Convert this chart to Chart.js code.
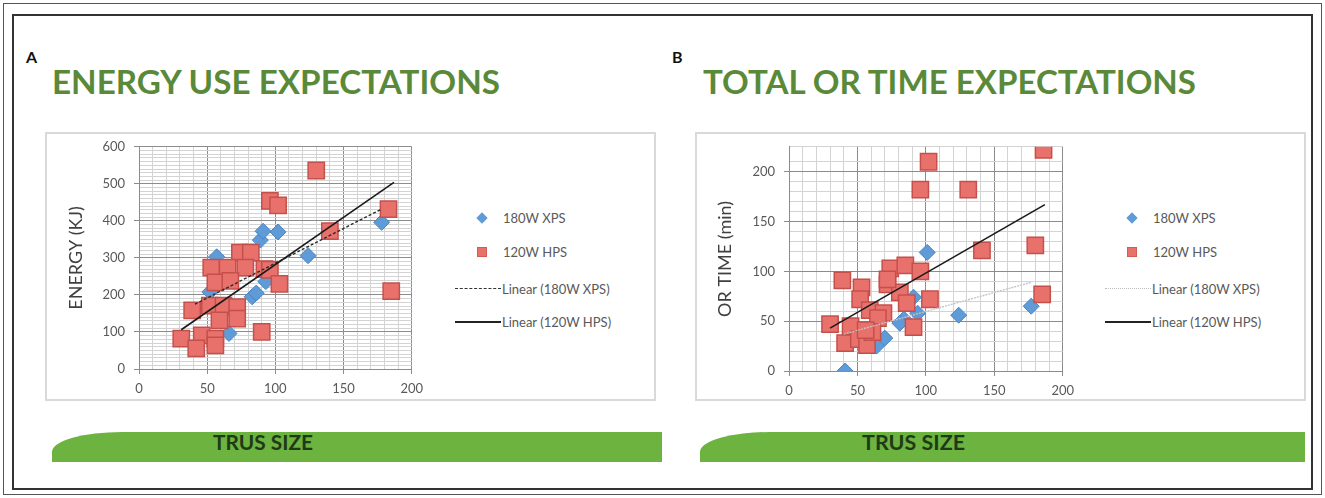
<!DOCTYPE html>
<html>
<head>
<meta charset="utf-8">
<script src="https://cdn.jsdelivr.net/npm/chart.js@4.4.0/dist/chart.umd.min.js"></script>
<style>
body { margin: 0; width: 1325px; height: 498px; background: #fff; position: relative; overflow: hidden; font-family: Lato, "Open Sans", sans-serif; }
.abs { position: absolute; }
.frame { border: 2px solid #d9d9d9; box-sizing: border-box; }
.big { color: #5a8a39; font-size: 33px; font-weight: bold; line-height: 34px; white-space: nowrap; transform-origin: 0 0; }
.letter { font-weight: bold; font-size: 16px; color: #111; }
.bar { background: #6cb33f; border-top-left-radius: 70px 20px; }
.bar span { position: absolute; top: -2px; font-weight: bold; font-size: 20px; color: #1f3a17; white-space: nowrap; transform-origin: 0 0; }
.leg { font-size: 13px; color: #595959; white-space: nowrap; line-height: 16px; }
</style>
</head>
<body>
<div class="abs" style="left:3px;top:3px;width:1317px;height:490px;border:1px solid #555;"></div>
<div class="abs" style="left:12px;top:14px;width:1297px;height:472px;border:2px solid #333;"></div>

<div class="abs letter" style="left:26px;top:47px;">A</div>
<div class="abs letter" style="left:672px;top:47px;">B</div>
<div class="abs big" id="titleA" style="left:52px;top:64px;">ENERGY USE EXPECTATIONS</div>
<div class="abs big" id="titleB" style="left:703px;top:64px;">TOTAL OR TIME EXPECTATIONS</div>

<div class="abs frame" style="left:45px;top:132px;width:611px;height:269px;"></div>
<div class="abs frame" style="left:695px;top:132px;width:611px;height:269px;"></div>

<canvas id="chartA" class="abs" width="384" height="270" style="left:46px;top:130px;"></canvas>
<canvas id="chartB" class="abs" width="386" height="270" style="left:695px;top:130px;"></canvas>

<div id="legA"></div>
<div id="legB"></div>

<div class="abs bar" style="left:52px;top:432px;width:610px;height:30px;"><span id="trusA" style="left:161px;">TRUS SIZE</span></div>
<div class="abs bar" style="left:700px;top:432px;width:605px;height:30px;"><span id="trusB" style="left:162px;">TRUS SIZE</span></div>

<script>
// A: energy use vs TRUS size
const xpsSizeA = [57, 52, 64, 66, 83, 86, 89, 91, 93, 102, 124, 178];
const xpsEnergy = [303, 208, 244, 96, 195, 205, 348, 372, 236, 370, 306, 396];
const hpsSizeA = [130, 96, 102, 183, 140, 185, 90, 74, 82, 53, 65, 78, 92, 96, 56, 67, 103, 39, 52, 62, 72, 59, 72, 31, 46, 56, 42, 56];
const hpsEnergy = [536, 454, 442, 432, 372, 210, 100, 314, 314, 274, 274, 274, 270, 268, 234, 238, 230, 158, 171, 171, 167, 131, 136, 82, 91, 82, 56, 64];
const xpsFitSizeA = [41, 178];
const xpsFitEnergy = [175, 432];
const hpsFitSizeA = [31, 187];
const hpsFitEnergy = [106, 504];

// B: OR time vs TRUS size
const xpsSizeB = [41, 101, 124, 177, 70, 64, 91, 84, 94, 81];
const xpsTime = [0, 119, 56, 65, 33, 25, 74, 52, 58, 48];
const hpsSizeB = [186, 102, 96, 131, 180, 141, 185, 103, 39, 91, 30, 53, 52, 74, 85, 96, 72, 81, 59, 69, 86, 45, 65, 41, 51, 57, 61, 56, 72];
const hpsTime = [222, 210, 182, 182, 126, 121, 77, 72, 91, 44, 47, 84, 72, 103, 106, 100, 87, 79, 61, 58, 68, 45, 53, 28, 32, 26, 39, 41, 92];
const xpsFitSizeB = [40, 177];
const xpsFitTime = [37, 89];
const hpsFitSizeB = [30, 187];
const hpsFitTime = [43, 167];

const xMajor = [0, 50, 100, 150, 200];
const yMajorA = [0, 100, 200, 300, 400, 500, 600];
const yMajorB = [0, 50, 100, 150, 200];
const seriesNames = ["180W XPS", "120W HPS", "Linear (180W XPS)", "Linear (120W HPS)"];

Chart.defaults.font.family = "Lato, 'Open Sans', sans-serif";

function pts(xs, ys) {
	return xs.map((x, i) => ({x: x, y: ys[i]}));
}

function axis(min, max, majors, fitSize, isX) {
	const isMajor = v => majors.includes(Math.round(v));
	return {
		type: "linear",
		min: min,
		max: max,
		afterFit: s => { if (isX) s.height = fitSize; else s.width = fitSize; },
		ticks: {
			stepSize: 10,
			autoSkip: false,
			maxRotation: 0,
			padding: isX ? 7 : 9,
			color: "#595959",
			font: {size: 13},
			callback: v => isMajor(v) ? Math.round(v) : ""
		},
		grid: {
			color: c => c.tick && isMajor(c.tick.value) ? "#8c8c8c" : "#d3d3d3",
			tickColor: c => c.tick && isMajor(c.tick.value) ? "#8c8c8c" : "rgba(0,0,0,0)",
			tickLength: 5
		},
		border: {color: "#8c8c8c"}
	};
}

function makeChart(id, d) {
	new Chart(document.getElementById(id), {
		type: "scatter",
		data: {
			datasets: [{
				label: seriesNames[0],
				data: d.xps,
				pointStyle: "rectRot",
				pointRadius: 8,
				backgroundColor: "#5f9bd6",
				borderColor: "#4a84c2",
				borderWidth: 1,
				order: 3
			},
			{
				label: seriesNames[1],
				data: d.hps,
				pointStyle: "rect",
				pointRadius: 11.5,
				backgroundColor: "#e9716c",
				borderColor: "#c4504c",
				borderWidth: 1.5,
				order: 2
			},
			{
				type: "line",
				label: seriesNames[2],
				data: d.xpsFit,
				borderColor: d.xpsFitColor,
				borderDash: d.xpsFitDash,
				borderWidth: d.xpsFitWidth,
				pointRadius: 0,
				order: 1
			},
			{
				type: "line",
				label: seriesNames[3],
				data: d.hpsFit,
				borderColor: "#1a1a1a",
				borderWidth: 1.6,
				pointRadius: 0,
				order: 0
			}]
		},
		options: {
			responsive: false,
			animation: false,
			layout: {padding: {top: d.padTop, right: 18, left: 0, bottom: 0}},
			plugins: {legend: {display: false}, tooltip: {enabled: false}},
			scales: {
				x: axis(0, 200, xMajor, d.xH, true),
				y: Object.assign(axis(0, d.yMax, d.yMajor, d.yW, false), {
					title: {display: true, text: d.yTitle, color: "#404040", font: {size: 18}, padding: {top: 19, bottom: 0}}
				})
			}
		}
	});
}

makeChart("chartA", {
	xps: pts(xpsSizeA, xpsEnergy),
	hps: pts(hpsSizeA, hpsEnergy),
	xpsFit: pts(xpsFitSizeA, xpsFitEnergy),
	hpsFit: pts(hpsFitSizeA, hpsFitEnergy),
	xpsFitColor: "#2b2b2b", xpsFitDash: [3, 2], xpsFitWidth: 1.4,
	yMax: 600, yMajor: yMajorA, yTitle: "ENERGY (KJ)",
	padTop: 15, xH: 31, yW: 93
});

makeChart("chartB", {
	xps: pts(xpsSizeB, xpsTime),
	hps: pts(hpsSizeB, hpsTime),
	xpsFit: pts(xpsFitSizeB, xpsFitTime),
	hpsFit: pts(hpsFitSizeB, hpsFitTime),
	xpsFitColor: "#c4c4c4", xpsFitDash: [2, 1], xpsFitWidth: 1.4,
	yMax: 225, yMajor: yMajorB, yTitle: "OR TIME (min)",
	padTop: 5, xH: 29, yW: 94
});

// legends
function legend(id, left, lineColor, dash) {
	const rows = [218, 252, 289, 322];
	const el = document.getElementById(id);
	let html = "";
	rows.forEach((y, i) => {
		let mark;
		if (i === 0) mark = '<div class="abs" style="left:' + (left + 19) + 'px;top:' + (y - 4) + 'px;width:8px;height:8px;background:#5f9bd6;transform:rotate(45deg);"></div>';
		else if (i === 1) mark = '<div class="abs" style="left:' + (left + 18) + 'px;top:' + (y - 5) + 'px;width:10px;height:10px;background:#e9716c;border:1px solid #d05c57;box-sizing:border-box;"></div>';
		else if (i === 2) mark = '<div class="abs" style="left:' + (left - 4) + 'px;top:' + (y - 1) + 'px;width:46px;border-top:1.5px ' + dash + ' ' + lineColor + ';"></div>';
		else mark = '<div class="abs" style="left:' + (left - 4) + 'px;top:' + (y - 1) + 'px;width:46px;border-top:2px solid #222;"></div>';
		html += mark + '<div class="abs leg" style="left:' + (i < 2 ? left + 44 : left + 43) + 'px;top:' + (y - 8) + 'px;">' + seriesNames[i] + '</div>';
	});
	el.innerHTML = html;
}
legend("legA", 459, "#333", "dashed");
legend("legB", 1109, "#bdbdbd", "dotted");

// stretch heading texts to the widths in the figure
function fitWidth(id, w) {
	const el = document.getElementById(id);
	el.style.transform = "scaleX(" + (w / el.getBoundingClientRect().width) + ")";
}
fitWidth("titleA", 448);
fitWidth("titleB", 493);
fitWidth("trusA", 100);
fitWidth("trusB", 103);
</script>
</body>
</html>
